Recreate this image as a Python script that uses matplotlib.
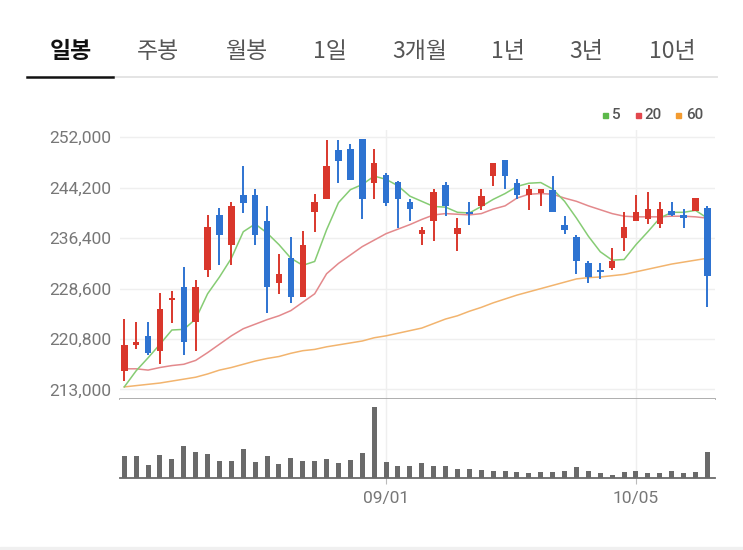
import matplotlib
matplotlib.use("Agg")
import matplotlib.pyplot as plt
from matplotlib.patches import Rectangle
from matplotlib.lines import Line2D
import numpy as np

# ---------------- data ----------------
tabs = ["일봉", "주봉", "월봉", "1일", "3개월", "1년", "3년", "10년"]

opens = [215800, 219900, 221300, 218900, 226900, 228900, 223400, 231500, 240000, 235400,
         243100, 243100, 239000, 229500, 233400, 227300, 240400, 242500, 250100, 250200,
         251700, 245000, 246100, 245100, 242000, 237000, 239000, 244600, 237100, 240400,
         241300, 246000, 248500, 245000, 243100, 243400, 243900, 238500, 236600, 232500,
         231500, 231800, 236400, 239000, 239300, 238600, 240600, 240000, 240600, 241000]
closes = [219900, 220400, 218700, 225500, 227000, 220300, 228900, 238100, 236900, 241400,
          241900, 236900, 228900, 230900, 227300, 235400, 242000, 247600, 248400, 245400,
          242500, 248100, 241900, 242500, 240900, 237700, 243600, 241400, 238000, 240100,
          243000, 248100, 246000, 243100, 244000, 244000, 240500, 237700, 232900, 230400,
          231100, 232900, 238100, 240400, 240900, 240900, 240000, 239500, 242600, 230500]
highs = [223900, 223400, 223400, 227900, 228300, 232000, 230000, 240000, 241000, 242000,
         247600, 244000, 241400, 234000, 236600, 237500, 243200, 251600, 251600, 251000,
         251700, 250200, 246500, 245200, 242500, 238100, 244000, 245100, 239500, 242000,
         244000, 248100, 248500, 245500, 244600, 244000, 246000, 239900, 236900, 232900,
         232500, 234900, 240400, 243100, 243600, 242000, 242000, 240900, 242600, 241300]
lows = [214300, 219200, 218400, 216900, 223300, 218400, 218900, 230400, 232300, 232300,
        240300, 235300, 224800, 227800, 226300, 227300, 237400, 242500, 245000, 245400,
        239400, 242500, 241400, 237900, 239000, 235300, 236000, 239900, 234400, 238500,
        240800, 244500, 244000, 242500, 240800, 241400, 240500, 237000, 230900, 229500,
        230100, 231500, 234400, 239000, 238600, 238000, 239900, 238000, 240600, 225800]

ma5 = [213400, 215900, 217900, 220000, 222200, 222300, 223900, 227800, 230400, 233300,
       237400, 238600, 237200, 235400, 233300, 232200, 232800, 237700, 241900, 243900,
       244700, 246000, 245500, 244500, 242900, 242100, 241300, 241200, 240400, 240300,
       241300, 242400, 243300, 244400, 244900, 245000, 244000, 242100, 239500, 236700,
       234300, 233000, 233100, 235400, 237400, 239500, 240400, 240400, 240700, 239500]
ma20 = [216200, 216200, 216000, 216400, 216700, 216900, 217500, 218700, 220000, 221300,
        222400, 223100, 223800, 224400, 225200, 226500, 227800, 230900, 232500, 233800,
        235100, 236100, 237100, 237800, 238500, 239300, 240000, 240200, 240100, 240000,
        240200, 240900, 241400, 242600, 243200, 243300, 243200, 242600, 242100, 241400,
        240800, 240200, 239800, 239700, 239700, 239700, 239800, 239800, 239700, 239500]
ma60 = [213400, 213600, 213800, 214000, 214300, 214600, 214900, 215400, 216000, 216400,
        216900, 217400, 217800, 218100, 218600, 219000, 219200, 219600, 219900, 220200,
        220500, 221000, 221300, 221700, 222100, 222500, 223200, 223900, 224400, 225100,
        225700, 226400, 227000, 227600, 228100, 228600, 229100, 229600, 230100, 230300,
        230400, 230600, 230800, 231200, 231600, 232000, 232400, 232700, 233000, 233300]

volume = [67, 67, 38, 70, 58, 95, 78, 73, 50, 52, 88, 47, 67, 42, 60, 52, 52, 57, 45, 54,
          75, 213, 47, 35, 35, 45, 37, 35, 28, 28, 25, 22, 22, 18, 15, 18, 18, 22, 32, 22,
          15, 10, 18, 22, 15, 15, 22, 15, 18, 78]
volume = [v * 1000 for v in volume]

price_ticks = [213000, 220800, 228600, 236400, 244200, 252000]
date_tick_idx = [22, 43]
date_tick_labels = ["09/01", "10/05"]
ma_labels = ["5", "20", "60"]

# ---------------- style ----------------
W, H = 743, 550
UP = "#d9372c"
DOWN = "#2e73d1"
C_MA5 = "#86cc74"
C_MA20 = "#e3898c"
C_MA60 = "#f2b46e"
LEG_COLORS = ["#5cb94a", "#e2474d", "#f39b30"]
GRID = "#efefef"
LABEL = "#777777"

fig = plt.figure(figsize=(W / 100, H / 100), dpi=100)
fig.patch.set_facecolor("white")

def fx(x):
    return x / W

def fy(y):
    return 1 - y / H

# ---------------- tabs ----------------
tab_x = [71, 158, 247, 330, 420, 508, 586, 672]
for i, (t, x) in enumerate(zip(tabs, tab_x)):
    fig.text(fx(x), fy(51), t, ha="center", va="center",
             fontsize=16.5, family=["Noto Sans CJK KR", "DejaVu Sans"],
             fontweight="bold" if i == 0 else "normal",
             color="#111111" if i == 0 else "#555555")
fig.add_artist(Line2D([fx(113), fx(717)], [fy(77), fy(77)], color="#e4e4e4", lw=1.4))
fig.add_artist(Line2D([fx(27), fx(113)], [fy(77), fy(77)], color="#111111", lw=1.8))

# ---------------- legend ----------------
leg_sq_x = [605, 638, 678]
leg_txt_x = [612, 644, 686]
for c, sx, tx, lab in zip(LEG_COLORS, leg_sq_x, leg_txt_x, ma_labels):
    fig.add_artist(Rectangle((fx(sx - 2.5), fy(117.5)), 5 / W, 5 / H, color=c,
                             transform=fig.transFigure))
    fig.text(fx(tx), fy(115), lab, ha="left", va="center", fontsize=11,
             family="Roboto", fontweight="medium", color="#555555")

# ---------------- price panel ----------------
x = np.arange(len(closes))
ax = fig.add_axes([fx(120), fy(399), (715 - 120) / W, (399 - 130) / H])
ax.set_xlim(-0.36, len(closes) - 0.36)
ax.set_ylim(211530, 253130)
for s in ["top", "right", "left"]:
    ax.spines[s].set_visible(False)
ax.spines["bottom"].set_color("#a8a8a8")
ax.spines["bottom"].set_linewidth(1.3)
ax.set_yticks(price_ticks)
ax.set_yticklabels([f"{v:,}" for v in price_ticks], family="Roboto", fontsize=12.5,
                   color=LABEL)
ax.tick_params(axis="y", length=0, pad=6)
ax.set_xticks([])
for v in price_ticks:
    ax.axhline(v, color=GRID, lw=1.0, zorder=0)
for i in date_tick_idx:
    ax.axvline(i, color=GRID, lw=1.0, zorder=0)

ax.plot(x, ma60, color=C_MA60, lw=1.1, zorder=2)
ax.plot(x, ma20, color=C_MA20, lw=1.1, zorder=2)
ax.plot(x, ma5, color=C_MA5, lw=1.1, zorder=2)

for i in range(len(closes)):
    o, c, h, l = opens[i], closes[i], highs[i], lows[i]
    col = UP if c >= o else DOWN
    ax.vlines(i, l, h, color=col, lw=1.4, zorder=3)
    body = max(abs(c - o), 260)
    ax.bar(i, body, bottom=min(o, c), width=0.55, color=col, zorder=4, linewidth=0)

# ---------------- volume panel ----------------
axv = fig.add_axes([fx(120), fy(478), (715 - 120) / W, (478 - 399) / H])
axv.set_xlim(-0.36, len(closes) - 0.36)
axv.set_ylim(0, 237000)
for s in ["top", "right", "left"]:
    axv.spines[s].set_visible(False)
axv.spines["bottom"].set_color("#6a6a6a")
axv.spines["bottom"].set_linewidth(1.3)
axv.set_yticks([])
for i in date_tick_idx:
    axv.axvline(i, color=GRID, lw=1.0, zorder=0)
axv.bar(x, volume, width=0.42, color="#6a6a6a", linewidth=0, zorder=2)
axv.set_xticks(date_tick_idx)
axv.set_xticklabels(date_tick_labels, family="Roboto", fontsize=12.5, color=LABEL)
axv.tick_params(axis="x", length=4, width=0.8, color="#bbbbbb", pad=5)

# bottom band
fig.add_artist(Rectangle((0, 0), 1, 3.5 / H, color="#f0f0f0", transform=fig.transFigure))

fig.savefig("out.png", dpi=100)
